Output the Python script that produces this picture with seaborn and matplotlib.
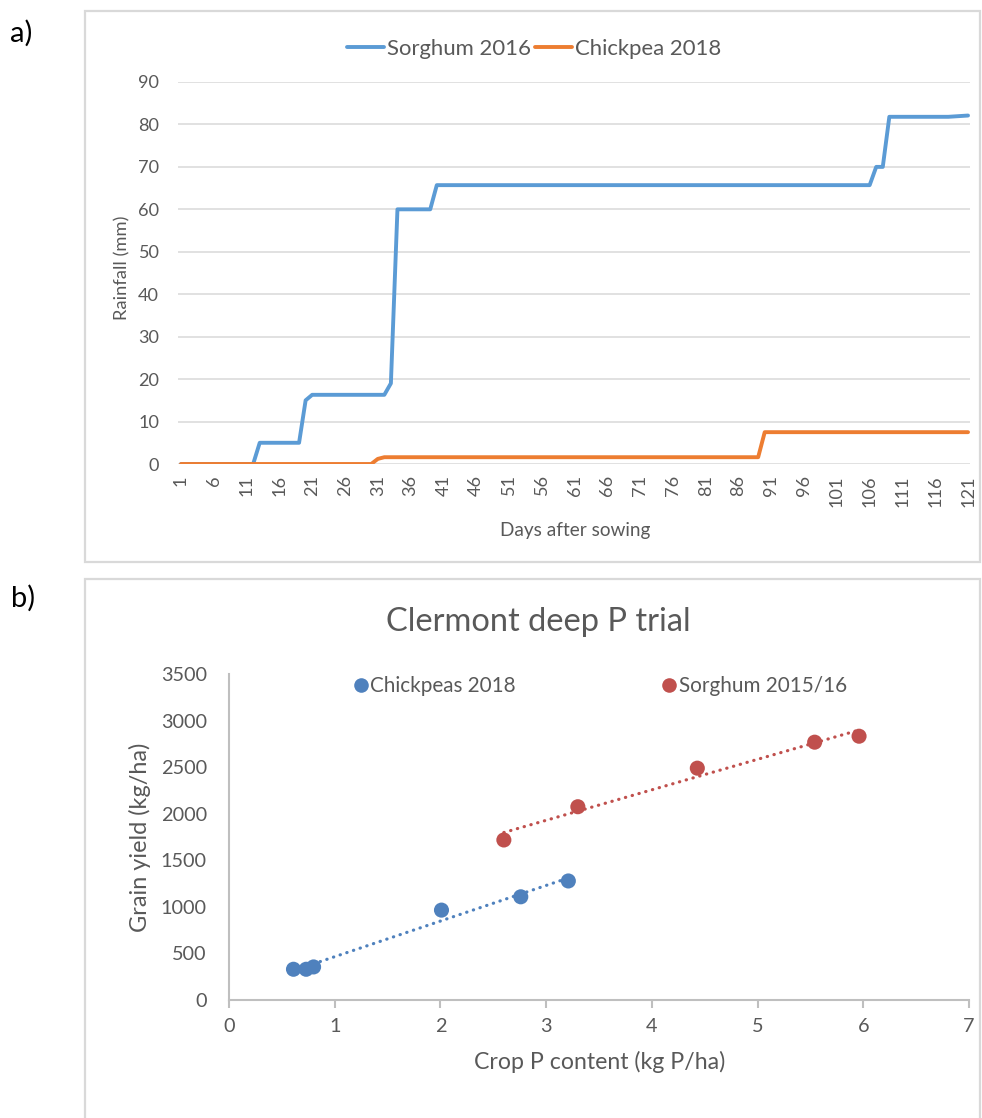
import numpy as np
import pandas as pd
import matplotlib
matplotlib.use("Agg")
import matplotlib.pyplot as plt
from matplotlib.patches import Rectangle
from matplotlib.lines import Line2D
import seaborn as sns

# ---------------- data: panel a (rainfall, vertices of the cumulative lines) ----------------
sorghum_days = [1, 12, 13, 19, 20, 21, 32, 33, 34, 39, 40, 106, 107, 108, 109, 118, 121]
sorghum_rain = [0, 0, 5, 5, 15, 16.3, 16.3, 19, 60, 60, 65.7, 65.7, 70, 70, 81.8, 81.8, 82.1]
chickpea_days = [1, 30, 31, 32, 89, 90, 121]
chickpea_rain = [0, 0, 1.2, 1.6, 1.6, 7.5, 7.5]
series_a = ["Sorghum 2016", "Chickpea 2018"]
day_ticks = list(range(1, 122, 5))
rain_ticks = list(range(0, 91, 10))

# ---------------- data: panel b (grain yield vs crop P) ----------------
chick_p = [0.61, 0.73, 0.80, 2.01, 2.76, 3.21]
chick_yield = [330, 330, 355, 965, 1108, 1278]
sorg_p = [2.60, 3.30, 4.43, 5.54, 5.96]
sorg_yield = [1718, 2075, 2489, 2768, 2832]
series_b = ["Chickpeas 2018", "Sorghum 2015/16"]
p_ticks = list(range(0, 8))
yield_ticks = list(range(0, 3501, 500))

BLUE_A, ORANGE_A = "#5B9BD5", "#ED7D31"
BLUE_B, RED_B = "#4F81BD", "#C0504D"
TXT = "#595959"
GRID = "#D9D9D9"

sns.set_theme(style="white")
plt.rcParams["font.family"] = ["Lato", "DejaVu Sans"]

W, H = 982, 1118
fig = plt.figure(figsize=(W / 100, H / 100), dpi=100)
renderer = fig.canvas.get_renderer()


def fx(px):
    return px / W


def fy(py):
    return 1 - py / H


def size_for(s, target_px, base=12.0):
    """font size (pt) so that string s is target_px wide"""
    t = fig.text(0, 0, s, fontsize=base)
    w = t.get_window_extent(renderer).width
    t.remove()
    return base * target_px / w


fs_leg_a = size_for("Sorghum 2016", 144)
fs_tick_a = size_for("50", 21)
fs_ylab_a = size_for("Rainfall (mm)", 104)
fs_xlab_a = size_for("Days after sowing", 150)
fs_title = size_for("Clermont deep P trial", 304)
fs_leg_b = size_for("Sorghum 2015/16", 167)
fs_tick_b = size_for("2500", 46)
fs_xlab_b = size_for("Crop P content (kg P/ha)", 250)
fs_ylab_b = size_for("Grain yield (kg/ha)", 189)
fs_panel = size_for("a)", 22)

# panel frames
fig.add_artist(Rectangle((fx(85), fy(562)), fx(980) - fx(85), fy(11) - fy(562),
                         transform=fig.transFigure, fill=False, ec=GRID, lw=1.6))
fig.add_artist(Rectangle((fx(85), fy(1125)), fx(980) - fx(85), fy(579) - fy(1125),
                         transform=fig.transFigure, fill=False, ec=GRID, lw=1.6))
fig.text(fx(10), fy(33), "a)", fontsize=fs_panel, color="black", va="center", ha="left")
fig.text(fx(11), fy(598), "b)", fontsize=fs_panel, color="black", va="center", ha="left")

# ---------------- panel a ----------------
a_l, a_r, a_t, a_b = 178, 970, 82, 464
ax1 = fig.add_axes([fx(a_l), fy(a_b), fx(a_r) - fx(a_l), fy(a_t) - fy(a_b)])
df_a = pd.concat([
    pd.DataFrame({"day": sorghum_days, "rain": sorghum_rain, "series": series_a[0]}),
    pd.DataFrame({"day": chickpea_days, "rain": chickpea_rain, "series": series_a[1]}),
], ignore_index=True)
sns.lineplot(data=df_a, x="day", y="rain", hue="series", palette=[BLUE_A, ORANGE_A],
             linewidth=2.8, ax=ax1, sort=False, estimator=None, legend=False, zorder=3)
ax1.set_xlim(0.54, 121.3)
ax1.set_ylim(0, 90)
ax1.set_yticks(rain_ticks)
ax1.set_xticks(day_ticks)
ax1.set_xticklabels([str(d) for d in day_ticks], rotation=90)
ax1.yaxis.grid(True, color=GRID, lw=1.1)
ax1.xaxis.grid(False)
for s in ax1.spines.values():
    s.set_visible(False)
ax1.tick_params(axis="y", length=0, pad=13.5, labelsize=fs_tick_a, labelcolor=TXT)
ax1.tick_params(axis="x", length=0, pad=8, labelsize=fs_tick_a, labelcolor=TXT)
ax1.set_xlabel("Days after sowing", fontsize=fs_xlab_a, color=TXT)
ax1.set_ylabel("Rainfall (mm)", fontsize=fs_ylab_a, color=TXT)
ax1.xaxis.set_label_coords((575 - a_l) / (a_r - a_l), (a_b - 530) / (a_b - a_t))
ax1.xaxis.label.set_va("center")
ax1.yaxis.set_label_coords((122 - a_l) / (a_r - a_l), (a_b - 268) / (a_b - a_t))
ax1.yaxis.label.set_va("center")
em_a = fs_leg_a * 100 / 72
handles_a = [Line2D([], [], color=BLUE_A, lw=2.8), Line2D([], [], color=ORANGE_A, lw=2.8)]
ax1.legend(handles_a, series_a, loc="center",
           bbox_to_anchor=((534 - a_l) / (a_r - a_l), (a_b - 49) / (a_b - a_t)), ncol=2,
           frameon=False, fontsize=fs_leg_a, labelcolor=TXT, handlelength=37 / em_a,
           handletextpad=3 / em_a, columnspacing=4 / em_a, borderpad=0, borderaxespad=0)

# ---------------- panel b ----------------
b_l, b_r, b_t, b_b = 229, 969, 674, 1000
ax2 = fig.add_axes([fx(b_l), fy(b_b), fx(b_r) - fx(b_l), fy(b_t) - fy(b_b)])
df_b = pd.concat([
    pd.DataFrame({"p": chick_p, "yield": chick_yield, "series": series_b[0]}),
    pd.DataFrame({"p": sorg_p, "yield": sorg_yield, "series": series_b[1]}),
], ignore_index=True)
for name, col in zip(series_b, [BLUE_B, RED_B]):
    sub = df_b[df_b["series"] == name]
    sns.regplot(data=sub, x="p", y="yield", scatter=False, ci=None, ax=ax2,
                line_kws=dict(color=col, lw=2.3, ls=(0, (0.1, 2.1)),
                              dash_capstyle="round", zorder=2))
sns.scatterplot(data=df_b, x="p", y="yield", hue="series", palette=[BLUE_B, RED_B],
                s=118, edgecolor="none", ax=ax2, legend=False, zorder=3)
ax2.set_xlim(0, 7)
ax2.set_ylim(0, 3500)
ax2.set_xticks(p_ticks)
ax2.set_yticks(yield_ticks)
for side in ["top", "right"]:
    ax2.spines[side].set_visible(False)
for side in ["left", "bottom"]:
    ax2.spines[side].set_color("#BFBFBF")
    ax2.spines[side].set_linewidth(1.5)
ax2.tick_params(axis="y", length=0, pad=16, labelsize=fs_tick_b, labelcolor=TXT)
ax2.tick_params(axis="x", length=6, width=1.5, color="#BFBFBF", direction="out",
                pad=7, labelsize=fs_tick_b, labelcolor=TXT, bottom=True)
ax2.set_xlabel("Crop P content (kg P/ha)", fontsize=fs_xlab_b, color=TXT)
ax2.set_ylabel("Grain yield (kg/ha)", fontsize=fs_ylab_b, color=TXT)
ax2.xaxis.set_label_coords((600 - b_l) / (b_r - b_l), (b_b - 1062) / (b_b - b_t))
ax2.xaxis.label.set_va("center")
ax2.yaxis.set_label_coords((140 - b_l) / (b_r - b_l), (b_b - 837) / (b_b - b_t))
ax2.yaxis.label.set_va("center")
em_b = fs_leg_b * 100 / 72
handles_b = [Line2D([], [], ls="none", marker="o", ms=10.5, color=BLUE_B, mec="none"),
             Line2D([], [], ls="none", marker="o", ms=10.5, color=RED_B, mec="none")]
ax2.legend(handles_b, series_b, loc="center",
           bbox_to_anchor=((600 - b_l) / (b_r - b_l), (b_b - 686) / (b_b - b_t)), ncol=2,
           frameon=False, fontsize=fs_leg_b, labelcolor=TXT, handlelength=15 / em_b,
           handletextpad=2 / em_b, columnspacing=146 / em_b, borderpad=0, borderaxespad=0)
fig.text(fx(538), fy(622), "Clermont deep P trial", fontsize=fs_title, color=TXT,
         ha="center", va="center")

fig.savefig("out.png", dpi=100)
